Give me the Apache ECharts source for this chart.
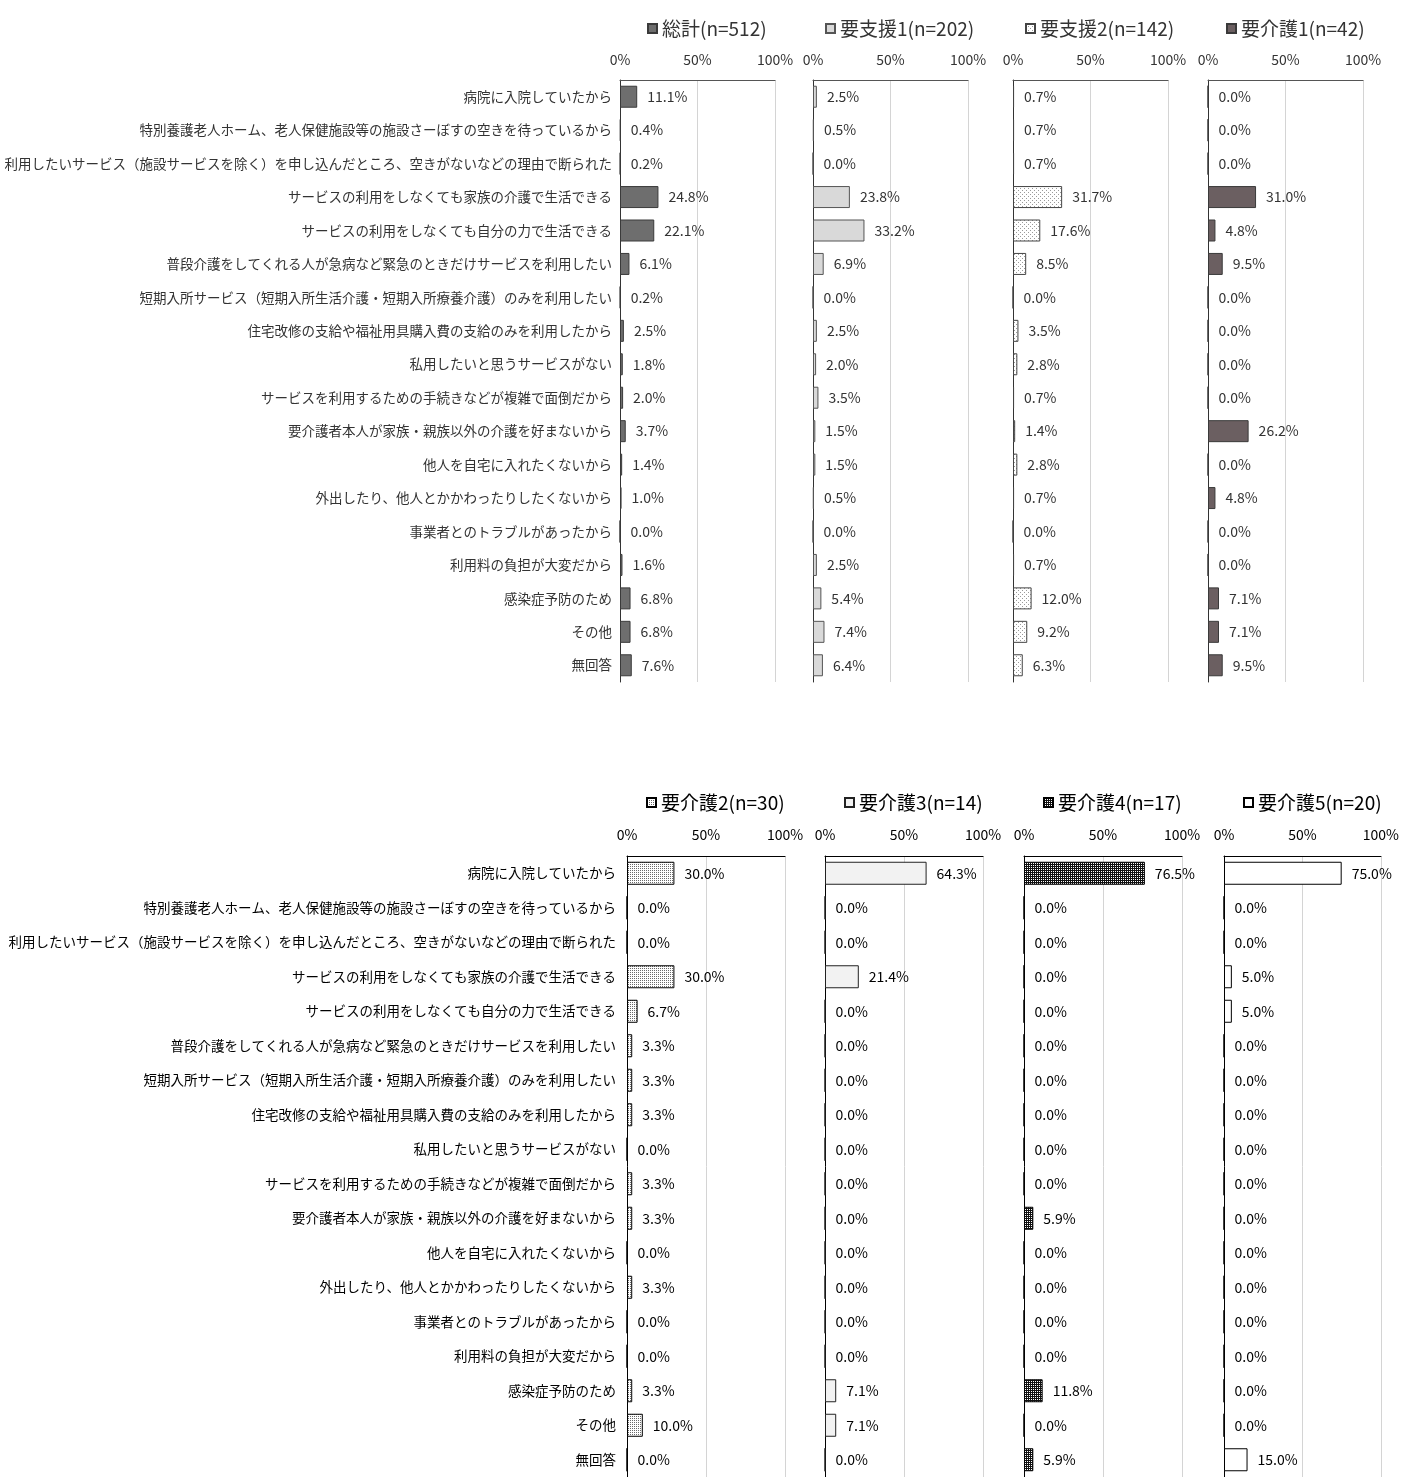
<!DOCTYPE html>
<html><head><meta charset="utf-8">
<script src="https://cdn.jsdelivr.net/npm/echarts@6/dist/echarts.min.js"></script>
<style>html,body{margin:0;padding:0;background:#fff}#c{width:1402px;height:1477px}</style>
</head><body><div id="c"></div>
<script>
const categories = [
  '病院に入院していたから',
  '特別養護老人ホーム、老人保健施設等の施設さーぼすの空きを待っているから',
  '利用したいサービス（施設サービスを除く）を申し込んだところ、空きがないなどの理由で断られた',
  'サービスの利用をしなくても家族の介護で生活できる',
  'サービスの利用をしなくても自分の力で生活できる',
  '普段介護をしてくれる人が急病など緊急のときだけサービスを利用したい',
  '短期入所サービス（短期入所生活介護・短期入所療養介護）のみを利用したい',
  '住宅改修の支給や福祉用具購入費の支給のみを利用したから',
  '私用したいと思うサービスがない',
  'サービスを利用するための手続きなどが複雑で面倒だから',
  '要介護者本人が家族・親族以外の介護を好まないから',
  '他人を自宅に入れたくないから',
  '外出したり、他人とかかわったりしたくないから',
  '事業者とのトラブルがあったから',
  '利用料の負担が大変だから',
  '感染症予防のため',
  'その他',
  '無回答'
];
const seriesNames = ['総計(n=512)','要支援1(n=202)','要支援2(n=142)','要介護1(n=42)','要介護2(n=30)','要介護3(n=14)','要介護4(n=17)','要介護5(n=20)'];
const totalAll = [11.1,0.4,0.2,24.8,22.1,6.1,0.2,2.5,1.8,2.0,3.7,1.4,1.0,0.0,1.6,6.8,6.8,7.6];
const shien1  = [2.5,0.5,0.0,23.8,33.2,6.9,0.0,2.5,2.0,3.5,1.5,1.5,0.5,0.0,2.5,5.4,7.4,6.4];
const shien2  = [0.7,0.7,0.7,31.7,17.6,8.5,0.0,3.5,2.8,0.7,1.4,2.8,0.7,0.0,0.7,12.0,9.2,6.3];
const kaigo1  = [0.0,0.0,0.0,31.0,4.8,9.5,0.0,0.0,0.0,0.0,26.2,0.0,4.8,0.0,0.0,7.1,7.1,9.5];
const kaigo2  = [30.0,0.0,0.0,30.0,6.7,3.3,3.3,3.3,0.0,3.3,3.3,0.0,3.3,0.0,0.0,3.3,10.0,0.0];
const kaigo3  = [64.3,0.0,0.0,21.4,0.0,0.0,0.0,0.0,0.0,0.0,0.0,0.0,0.0,0.0,0.0,7.1,7.1,0.0];
const kaigo4  = [76.5,0.0,0.0,0.0,0.0,0.0,0.0,0.0,0.0,0.0,5.9,0.0,0.0,0.0,0.0,11.8,0.0,5.9];
const kaigo5  = [75.0,0.0,0.0,5.0,5.0,0.0,0.0,0.0,0.0,0.0,0.0,0.0,0.0,0.0,0.0,0.0,0.0,15.0];
const seriesData = [totalAll, shien1, shien2, kaigo1, kaigo2, kaigo3, kaigo4, kaigo5];
const xTicks = [0, 50, 100];

function pattern(size, bg, fg, dots) {
  const c = document.createElement('canvas');
  c.width = size; c.height = size;
  const g = c.getContext('2d');
  g.fillStyle = bg; g.fillRect(0, 0, size, size);
  g.fillStyle = fg;
  dots.forEach(d => g.fillRect(d[0], d[1], 1, 1));
  return { image: c, repeat: 'repeat' };
}
const styles = [
  { color: '#6e6e6e', border: '#3a3a3a' },
  { color: '#d9d9d9', border: '#555555' },
  { color: pattern(4, '#ffffff', '#9a9a9a', [[0,0],[2,2]]), border: '#444444' },
  { color: '#6b5f61', border: '#3a3a3a' },
  { color: pattern(2, '#ffffff', '#6a6a6a', [[0,0]]), border: '#000000' },
  { color: '#f2f2f2', border: '#222222' },
  { color: pattern(2, '#111111', '#ffffff', [[1,1]]), border: '#000000' },
  { color: '#ffffff', border: '#000000' }
];

const CJK = "'Noto Sans CJK JP'";
const NUM = "'Liberation Sans Narrow','Noto Sans CJK JP'";

const topLefts = [620, 813, 1013, 1208];
const botLefts = [627, 825, 1024, 1224];
const grids = [], xAxes = [], yAxes = [], series = [], legends = [];
const mctx = document.createElement('canvas').getContext('2d');
mctx.font = "19px " + CJK;

for (let i = 0; i < 8; i++) {
  const isTop = i < 4;
  const left = isTop ? topLefts[i] : botLefts[i - 4];
  const width = isTop ? 155 : 158;
  const top = isTop ? 80 : 856;
  const height = isTop ? 602 : 626;
  grids.push({ left: left, top: top, width: width, height: height, containLabel: false });
  xAxes.push({
    type: 'value', gridIndex: i, position: 'top', min: xTicks[0], max: xTicks[2], interval: 50,
    axisLine: { show: true, lineStyle: { color: isTop ? '#555' : '#000', width: 1 } },
    axisTick: { show: false },
    splitLine: { show: true, lineStyle: { color: '#d4d4d4', width: 1 } },
    axisLabel: { formatter: '{value}%', fontSize: 14, fontFamily: NUM, color: isTop ? '#333' : '#000', margin: isTop ? 13 : 14 }
  });
  const showCat = (i === 0 || i === 4);
  yAxes.push({
    type: 'category', gridIndex: i, data: categories, inverse: true,
    axisLine: { show: true, lineStyle: { color: isTop ? '#333' : '#000' } },
    axisTick: { show: false },
    axisLabel: { show: showCat, fontSize: 13.5, fontFamily: CJK, color: isTop ? '#333' : '#000', margin: isTop ? 8 : 11 }
  });
  series.push({
    type: 'bar', name: seriesNames[i], xAxisIndex: i, yAxisIndex: i,
    data: seriesData[i], barWidth: isTop ? 22 : 23,
    itemStyle: { color: styles[i].color, borderColor: styles[i].border, borderWidth: 1 },
    label: {
      show: true, position: 'right', distance: 10,
      formatter: p => p.value.toFixed(1) + '%',
      fontSize: 14, fontFamily: NUM, color: isTop ? '#333' : '#000'
    },
    silent: true, animation: false
  });
  const tw = mctx.measureText(seriesNames[i]).width;
  const w = 9 + 5 + tw;
  const center = left + width / 2 + 4;
  legends.push({
    data: [seriesNames[i]], left: Math.round(center - w / 2), top: isTop ? 14 : 788,
    icon: 'rect', itemWidth: 9, itemHeight: 9, selectedMode: false,
    textStyle: { fontSize: 19, fontFamily: CJK, color: isTop ? '#333' : '#000' }
  });
}

const chart = echarts.init(document.getElementById('c'), null, { renderer: 'canvas' });
chart.setOption({
  backgroundColor: '#fff',
  animation: false,
  legend: legends,
  grid: grids,
  xAxis: xAxes,
  yAxis: yAxes,
  series: series
});
</script></body></html>
